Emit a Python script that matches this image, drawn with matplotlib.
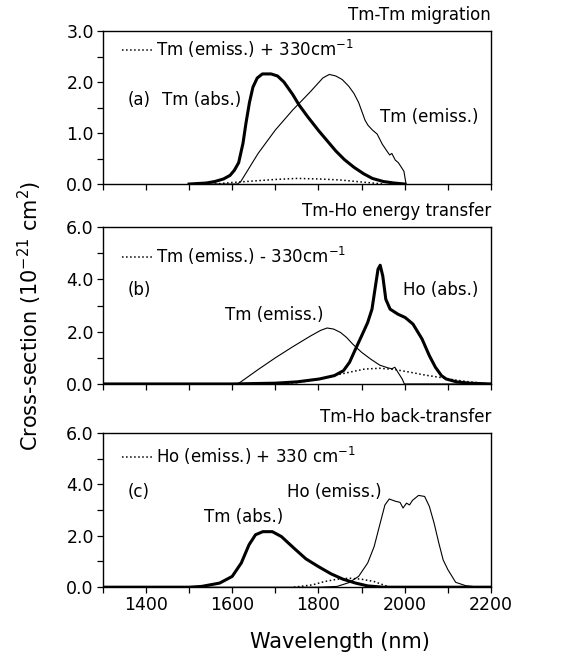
import numpy as np
import matplotlib
matplotlib.use("Agg")
import matplotlib.pyplot as plt
from matplotlib.ticker import MultipleLocator, FormatStrFormatter

plt.rcParams['font.family'] = ['DejaVu Sans']

# (a) Tm-Tm migration
a_abs_nm = [1500, 1540, 1560, 1580, 1595, 1605, 1615, 1625, 1632, 1640, 1648, 1658, 1670, 1690,
            1705, 1720, 1740, 1755, 1775, 1800, 1820, 1840, 1860, 1882, 1905, 1925, 1950, 1975, 2000]
a_abs = [0.0, 0.02, 0.05, 0.1, 0.17, 0.27, 0.42, 0.8, 1.2, 1.6, 1.9, 2.08, 2.16, 2.16,
         2.12, 2.0, 1.76, 1.55, 1.32, 1.05, 0.85, 0.65, 0.48, 0.33, 0.2, 0.11, 0.05, 0.02, 0.0]
a_em_nm = [1500, 1612, 1620, 1660, 1700, 1740, 1780, 1810, 1825, 1840, 1855, 1870, 1882,
           1893, 1908, 1915, 1925, 1936, 1948, 1960, 1965, 1970, 1978, 1985, 1992, 1998, 2003]
a_em = [0.0, 0.0, 0.05, 0.6, 1.06, 1.45, 1.8, 2.08, 2.15, 2.12, 2.05, 1.92, 1.78,
        1.6, 1.25, 1.15, 1.06, 0.98, 0.78, 0.63, 0.57, 0.6, 0.47, 0.42, 0.33, 0.25, 0.0]
a_dot_nm = [1560, 1600, 1650, 1700, 1750, 1800, 1850, 1900, 1950]
a_dot = [0.0, 0.03, 0.06, 0.09, 0.11, 0.1, 0.08, 0.04, 0.0]

# (b) Tm-Ho energy transfer
b_em_nm = [1300, 1612, 1620, 1660, 1700, 1740, 1780, 1805, 1820, 1835, 1851, 1865, 1879,
           1900, 1921, 1942, 1960, 1970, 1977, 1984, 1994, 1999, 2200]
b_em = [0.0, 0.0, 0.08, 0.55, 1.0, 1.42, 1.82, 2.05, 2.14, 2.1, 1.97, 1.78, 1.53,
        1.21, 0.95, 0.72, 0.62, 0.58, 0.64, 0.45, 0.19, 0.0, 0.0]
b_abs_nm = [1300, 1600, 1700, 1750, 1802, 1837, 1858, 1872, 1886, 1900, 1914, 1924, 1931,
            1938, 1943, 1949, 1956, 1966, 1984, 2001, 2019, 2040, 2057, 2071, 2085, 2096,
            2120, 2150, 2200]
b_abs = [0.0, 0.0, 0.03, 0.08, 0.19, 0.32, 0.51, 0.83, 1.34, 1.84, 2.35, 2.86, 3.63,
         4.39, 4.54, 4.13, 3.24, 2.86, 2.67, 2.54, 2.29, 1.72, 1.08, 0.64, 0.32, 0.19,
         0.08, 0.03, 0.0]
b_dot_nm = [1700, 1750, 1800, 1830, 1872, 1907, 1942, 1977, 2012, 2047, 2082, 2100, 2140, 2185]
b_dot = [0.0, 0.05, 0.18, 0.3, 0.45, 0.57, 0.6, 0.55, 0.45, 0.34, 0.25, 0.19, 0.1, 0.02]

# (c) Tm-Ho back-transfer
c_abs_nm = [1300, 1500, 1529, 1571, 1600, 1621, 1639, 1654, 1671, 1693, 1714, 1743, 1771,
            1800, 1829, 1857, 1886, 1914, 1950, 2200]
c_abs = [0.0, 0.0, 0.03, 0.16, 0.42, 0.94, 1.65, 2.04, 2.16, 2.16, 1.97, 1.52, 1.1,
         0.8, 0.52, 0.31, 0.16, 0.05, 0.0, 0.0]
c_em_nm = [1300, 1800, 1843, 1871, 1893, 1914, 1929, 1943, 1954, 1964, 1979, 1989, 1996,
           2004, 2011, 2018, 2032, 2046, 2057, 2068, 2079, 2089, 2100, 2118, 2141, 2172, 2200]
c_em = [0.0, 0.0, 0.03, 0.18, 0.42, 0.94, 1.58, 2.49, 3.2, 3.43, 3.34, 3.3, 3.08,
        3.27, 3.2, 3.38, 3.57, 3.53, 3.14, 2.49, 1.71, 1.06, 0.68, 0.19, 0.06, 0.0, 0.0]
c_dot_nm = [1743, 1786, 1814, 1843, 1871, 1900, 1929, 1957, 1965]
c_dot = [0.0, 0.09, 0.22, 0.31, 0.35, 0.31, 0.22, 0.05, 0.0]

fig = plt.figure(figsize=(5.71, 6.62), dpi=100)
left, width = 0.180, 0.680
axa = fig.add_axes([left, 0.722, width, 0.231])
axb = fig.add_axes([left, 0.420, width, 0.237])
axc = fig.add_axes([left, 0.113, width, 0.233])

thick, thin, dotlw = 2.2, 0.8, 1.1

axa.plot(a_dot_nm, a_dot, 'k:', lw=dotlw, label=r'Tm (emiss.) + 330cm$^{\mathregular{-1}}$')
axa.plot(a_abs_nm, a_abs, 'k-', lw=thick)
axa.plot(a_em_nm, a_em, 'k-', lw=thin)

axb.plot(b_dot_nm, b_dot, 'k:', lw=dotlw, label=r'Tm (emiss.) - 330cm$^{\mathregular{-1}}$')
axb.plot(b_em_nm, b_em, 'k-', lw=thin)
axb.plot(b_abs_nm, b_abs, 'k-', lw=thick)

axc.plot(c_dot_nm, c_dot, 'k:', lw=dotlw, label=r'Ho (emiss.) + 330 cm$^{\mathregular{-1}}$')
axc.plot(c_abs_nm, c_abs, 'k-', lw=thick)
axc.plot(c_em_nm, c_em, 'k-', lw=thin)

fs = 12
panels = [(axa, 3.0, 1.0, 0.5, 'Tm-Tm migration', 1.033),
          (axb, 6.0, 2.0, 1.0, 'Tm-Ho energy transfer', 0.962),
          (axc, 6.0, 2.0, 1.0, 'Tm-Ho back-transfer', 1.0)]
for ax, ymax, major, minor, title, legy in panels:
    ax.set_xlim(1300, 2200)
    ax.set_ylim(0, ymax)
    ax.xaxis.set_major_locator(MultipleLocator(200))
    ax.xaxis.set_minor_locator(MultipleLocator(100))
    ax.yaxis.set_major_locator(MultipleLocator(major))
    ax.yaxis.set_minor_locator(MultipleLocator(minor))
    ax.yaxis.set_major_formatter(FormatStrFormatter('%.1f'))
    ax.tick_params(which='both', direction='out', length=4.5, width=0.9, labelsize=12.5, pad=2)
    for s in ax.spines.values():
        s.set_linewidth(1.0)
    ax.set_title(title, loc='right', fontsize=12, pad=8)
    ax.legend(loc='upper left', bbox_to_anchor=(0.02, legy), frameon=False, fontsize=12,
              handlelength=1.8, handletextpad=0.2, borderaxespad=0.3)

axa.tick_params(axis='x', labelbottom=False)
axb.tick_params(axis='x', labelbottom=False)

axa.text(0.064, 0.55, '(a)', transform=axa.transAxes, fontsize=fs, va='center')
axa.text(0.152, 0.55, 'Tm (abs.)', transform=axa.transAxes, fontsize=fs, va='center')
axa.text(0.714, 0.44, 'Tm (emiss.)', transform=axa.transAxes, fontsize=fs, va='center')

axb.text(0.064, 0.60, '(b)', transform=axb.transAxes, fontsize=fs, va='center')
axb.text(0.314, 0.44, 'Tm (emiss.)', transform=axb.transAxes, fontsize=fs, va='center')
axb.text(0.773, 0.60, 'Ho (abs.)', transform=axb.transAxes, fontsize=fs, va='center')

axc.text(0.064, 0.62, '(c)', transform=axc.transAxes, fontsize=fs, va='center')
axc.text(0.474, 0.62, 'Ho (emiss.)', transform=axc.transAxes, fontsize=fs, va='center')
axc.text(0.26, 0.455, 'Tm (abs.)', transform=axc.transAxes, fontsize=fs, va='center')

axc.set_xlabel('Wavelength (nm)', fontsize=15, labelpad=13, x=0.61)
fig.text(0.053, 0.523, r'Cross-section (10$^{\mathregular{-21}}$ cm$^{\mathregular{2}}$)',
         rotation=90, fontsize=15, ha='center', va='center')

fig.savefig('out.png', dpi=100)
